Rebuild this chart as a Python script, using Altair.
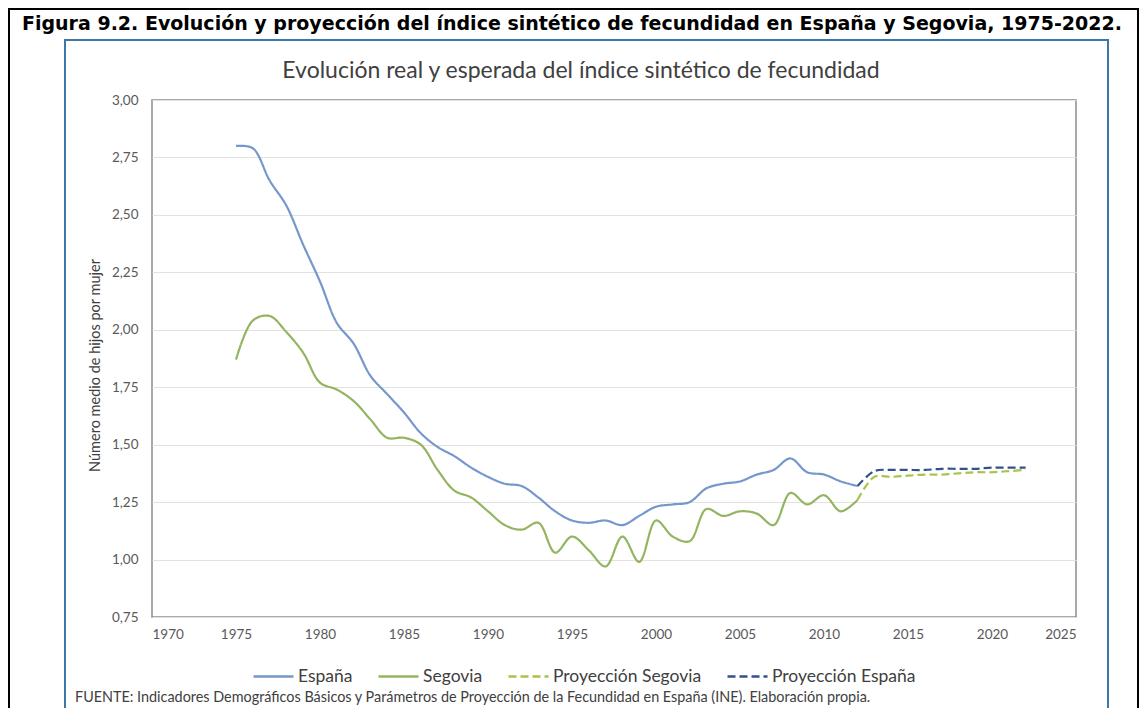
import altair as alt
import pandas as pd

# ---------------- data ----------------
years_real = list(range(1975, 2013))
espana = [2.80, 2.79, 2.65, 2.54, 2.37, 2.21, 2.03, 1.94, 1.80, 1.72,
          1.64, 1.55, 1.49, 1.45, 1.40, 1.36, 1.33, 1.32, 1.27, 1.21,
          1.17, 1.16, 1.17, 1.15, 1.19, 1.23, 1.24, 1.25, 1.31, 1.33,
          1.34, 1.37, 1.39, 1.44, 1.38, 1.37, 1.34, 1.32]
segovia = [1.87, 2.04, 2.06, 1.99, 1.90, 1.77, 1.74, 1.69, 1.61, 1.53,
           1.53, 1.50, 1.39, 1.30, 1.27, 1.21, 1.15, 1.13, 1.16, 1.03,
           1.10, 1.04, 0.97, 1.10, 0.99, 1.17, 1.10, 1.08, 1.22, 1.19,
           1.21, 1.20, 1.15, 1.29, 1.24, 1.28, 1.21, 1.26]

years_proj = list(range(2012, 2023))
proy_segovia = [1.26, 1.36, 1.36, 1.365, 1.37, 1.37, 1.375, 1.38, 1.38, 1.385, 1.39]
proy_espana = [1.32, 1.385, 1.39, 1.39, 1.39, 1.395, 1.395, 1.395, 1.40, 1.40, 1.40]

series_names = ["España", "Segovia", "Proyección Segovia", "Proyección España"]
series_colors = ["#7597cb", "#93b560", "#a8c44c", "#33508f"]
series_dash = [[1, 0], [1, 0], [8, 4], [8, 4]]

y_ticks = [0.75, 1.0, 1.25, 1.5, 1.75, 2.0, 2.25, 2.5, 2.75, 3.0]
x_ticks = list(range(1970, 2030, 5))

fig_title = ("Figura 9.2. Evolución y proyección del índice sintético de "
             "fecundidad en España y Segovia, 1975-2022.")
chart_title = "Evolución real y esperada del índice sintético de fecundidad"
y_title = "Número medio de hijos por mujer"
footer = ("FUENTE: Indicadores Demográficos Básicos y Parámetros de Proyección "
          "de la Fecundidad en España (INE). Elaboración propia.")

# ---------------- table ----------------
rows = []
for name, yrs, vals in [
    ("España", years_real, espana),
    ("Segovia", years_real, segovia),
    ("Proyección Segovia", years_proj, proy_segovia),
    ("Proyección España", years_proj, proy_espana),
]:
    for yv, v in zip(yrs, vals):
        rows.append({"year": yv, "value": v, "serie": name})
df = pd.DataFrame(rows)
one = pd.DataFrame({"k": [0]})

W, H = 924, 517
FONT = "Lato"

color_scale = alt.Scale(domain=series_names, range=series_colors)
dash_scale = alt.Scale(domain=series_names, range=series_dash)

legend = alt.Legend(
    title=None, orient="none", direction="horizontal",
    legendX=100, legendY=555, symbolType="stroke", symbolSize=1600,
    symbolStrokeWidth=2.5, labelFont=FONT, labelFontSize=17.5,
    labelColor="#404040", columnPadding=20, labelOffset=3,
    labelLimit=400, padding=0, rowPadding=0,
)

lines = alt.Chart(df).mark_line(strokeWidth=2.2, interpolate="catmull-rom").encode(
    x=alt.X("year:Q", scale=alt.Scale(domain=[1970, 2025], nice=False, zero=False),
            axis=alt.Axis(values=x_ticks, format="d", title=None, grid=False,
                          domain=False, ticks=False, labelPadding=10,
                          labelFont=FONT, labelFontSize=13.5, labelColor="#595959")),
    y=alt.Y("value:Q", scale=alt.Scale(domain=[0.75, 3.0], nice=False, zero=False),
            axis=alt.Axis(values=y_ticks, title=y_title,
                          labelExpr="replace(format(datum.value, '.2f'), '.', ',')",
                          grid=True, gridColor="#e2e2e2", gridWidth=1,
                          domain=False, ticks=False, labelPadding=14,
                          labelFont=FONT, labelFontSize=13.5, labelColor="#595959",
                          titleFont=FONT, titleFontSize=14.5, titleColor="#404040",
                          titleFontWeight="normal", titleAngle=270,
                          titleX=-57, titleY=265, titleAlign="center",
                          titleBaseline="middle")),
    color=alt.Color("serie:N", scale=color_scale, legend=legend,
                    sort=series_names),
    strokeDash=alt.StrokeDash("serie:N", scale=dash_scale, legend=legend,
                              sort=series_names),
    order=alt.Order("year:Q"),
)

outer_box = alt.Chart(one).mark_rect(filled=False, stroke="#000000", strokeWidth=2).encode(
    x=alt.value(-143), x2=alt.value(986), y=alt.value(-91), y2=alt.value(700))
blue_box = alt.Chart(one).mark_rect(filled=False, stroke="#3b78a8", strokeWidth=2).encode(
    x=alt.value(-87), x2=alt.value(956), y=alt.value(-60), y2=alt.value(700))

t_fig = alt.Chart(one).mark_text(
    font="DejaVu Sans", fontSize=19, fontWeight="bold",
    align="left", baseline="alphabetic", color="#000000").encode(
    x=alt.value(-130), y=alt.value(-70), text=alt.value(fig_title))
t_chart = alt.Chart(one).mark_text(
    font=FONT, fontSize=23, align="center", baseline="alphabetic",
    color="#404040").encode(
    x=alt.value(429), y=alt.value(-22), text=alt.value(chart_title))
t_foot = alt.Chart(one).mark_text(
    font=FONT, fontSize=14.4, align="left", baseline="alphabetic",
    color="#404040").encode(
    x=alt.value(-77), y=alt.value(602), text=alt.value(footer))

chart = alt.layer(outer_box, blue_box, t_fig, t_chart, lines, t_foot).properties(
    width=W, height=H,
    autosize=alt.AutoSizeParams(type="none"),
    padding={"left": 144, "top": 92, "right": 63, "bottom": 91},
    background="#ffffff",
).configure_view(stroke="#8c8c8c", strokeWidth=1.5)

chart.save("out.html", embed_options={"renderer": "svg", "actions": False})
